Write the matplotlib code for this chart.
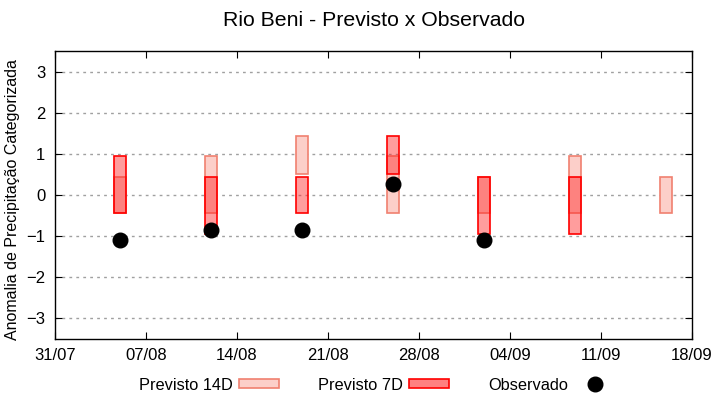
import matplotlib
matplotlib.use("Agg")
import matplotlib.pyplot as plt
import matplotlib.dates as mdates
from matplotlib.patches import Patch
from matplotlib.lines import Line2D
from datetime import datetime

plt.rcParams['font.family'] = ['Liberation Sans', 'DejaVu Sans']

# Data
dates = ["2023-08-05", "2023-08-12", "2023-08-19", "2023-08-26",
         "2023-09-02", "2023-09-09", "2023-09-16"]
p14_low = [-0.45, -0.45, 0.50, -0.45, -0.45, -0.45, -0.45]
p14_high = [0.43, 0.95, 1.43, 0.95, 0.43, 0.95, 0.43]
p7_low = [-0.45, -0.95, -0.45, 0.50, -0.95, -0.95, None]
p7_high = [0.95, 0.43, 0.43, 1.43, 0.43, 0.43, None]
obs = [-1.10, -0.85, -0.85, 0.28, -1.10, None, None]
tick_dates = ["2023-07-31", "2023-08-07", "2023-08-14", "2023-08-21",
              "2023-08-28", "2023-09-04", "2023-09-11", "2023-09-18"]

d = [datetime.strptime(s, "%Y-%m-%d") for s in dates]
td = [datetime.strptime(s, "%Y-%m-%d") for s in tick_dates]
dn = mdates.date2num(d)

fig = plt.figure(figsize=(7.2, 4.0), dpi=100)
ax = fig.add_axes([55/720, 1-338.5/400, (692-55)/720, (338.5-51.5)/400])

w = 0.95
c14_face = '#fccfc9'
c14_edge = '#f08070'
c7_face = (1.0, 0.15, 0.15, 0.45)
c7_edge = '#ff0000'

for x, lo, hi in zip(dn, p14_low, p14_high):
    ax.bar(x, hi - lo, bottom=lo, width=w, color=c14_face, edgecolor=c14_edge,
           linewidth=1.2, zorder=2)
for x, lo, hi in zip(dn, p7_low, p7_high):
    if lo is None:
        continue
    ax.bar(x, hi - lo, bottom=lo, width=w, color=c7_face, edgecolor=c7_edge,
           linewidth=1.2, zorder=3)
ox = [x for x, o in zip(dn, obs) if o is not None]
oy = [o for o in obs if o is not None]
ax.plot(ox, oy, 'o', color='black', markersize=10.5, zorder=4, linestyle='none')

ax.set_xlim(mdates.date2num(td[0]), mdates.date2num(td[-1]))
ax.set_ylim(-3.5, 3.5)
ax.set_xticks(mdates.date2num(td))
ax.set_xticklabels([t.strftime("%d/%m") for t in td])
ax.set_yticks([-3, -2, -1, 0, 1, 2, 3])
ax.yaxis.grid(True, linestyle=(0, (2, 3)), color='#a0a0a0', linewidth=1)
ax.set_axisbelow(True)
ax.tick_params(direction='in', length=5, top=True, right=True, labelsize=12,
               pad=7, color='black')
for s in ax.spines.values():
    s.set_linewidth(1)
ax.set_ylabel("Anomalia de Precipitação Categorizada", fontsize=11.5)
ax.yaxis.set_label_coords(-35/637, (338.5-200)/287)
fig.text(373.5/720, 1-20/400, "Rio Beni - Previsto x Observado", fontsize=15.3,
         ha='center', va='center')

handles = [Patch(facecolor=c14_face, edgecolor=c14_edge, linewidth=1.2),
           Patch(facecolor=(1.0, 0.5, 0.5), edgecolor=c7_edge, linewidth=1.2),
           Line2D([], [], marker='o', color='black', linestyle='none', markersize=10.5)]
labels = ["Previsto 14D", "Previsto 7D", "Observado"]
fig.legend(handles, labels, loc='center', bbox_to_anchor=(377/720, 1-385/400), ncol=3,
           frameon=False, markerfirst=False, fontsize=11.8, handlelength=2.45,
           handleheight=0.42, columnspacing=2.4, handletextpad=0.36)

fig.savefig("out.png", dpi=100)
